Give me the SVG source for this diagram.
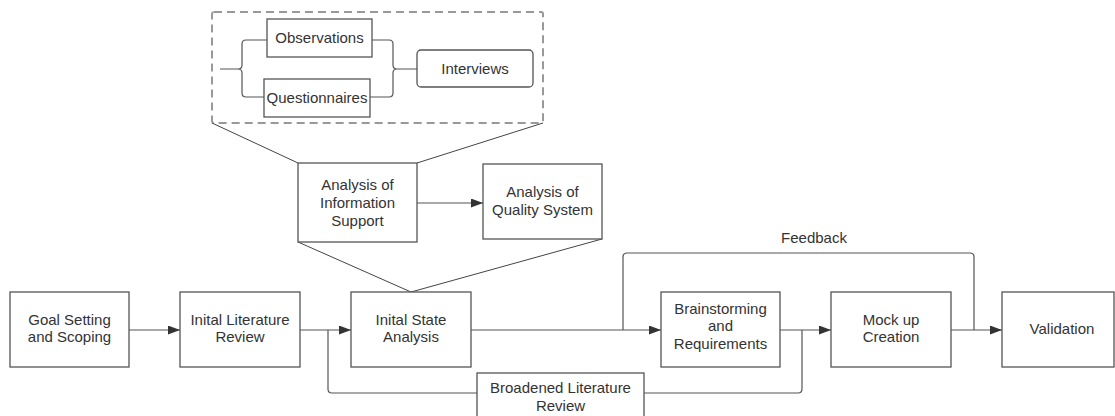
<svg xmlns="http://www.w3.org/2000/svg" width="1115" height="416" viewBox="0 0 1115 416">
  <defs>
    <marker id="arrow" markerUnits="userSpaceOnUse" markerWidth="13" markerHeight="9" refX="12" refY="4.5" orient="auto">
      <path d="M0,0 L12,4.5 L0,9 Z" fill="#333333"/>
    </marker>
    <style>
      .box { fill: #ffffff; stroke: #555555; stroke-width: 1.3; }
      .wire { fill: none; stroke: #555555; stroke-width: 1.2; }
      .zoomline { fill: none; stroke: #444444; stroke-width: 1; }
      .group { fill: none; stroke: #999999; stroke-width: 2; stroke-dasharray: 8 5; }
      text { font-family: "Liberation Sans", Arial, sans-serif; font-size: 15px; fill: #333333; text-anchor: middle; }
    </style>
  </defs>
  <rect width="1115" height="416" fill="#ffffff"/>

  <!-- data collection detail -->
  <g id="data-collection">
    <rect class="group" x="212" y="12" width="331" height="111" rx="2"/>
  </g>

  <g id="connectors">
    <!-- detail callout lines -->
    <path class="zoomline" d="M212,123 L298,163 M543,123 L417,163"/>
    <path class="zoomline" d="M298,242 L411,292 M602,239 L411,292"/>

    <!-- braces inside the data collection group -->
    <path class="wire" d="M220,69 H238 M267,40 H246 Q242,40 242,44 V65 Q242,69 238,69 Q242,69 242,73 V93 Q242,97 246,97 H264"/>
    <path class="wire" d="M372,40 H389 Q393,40 393,44 V65 Q393,69 397,69 Q393,69 393,73 V93 Q393,97 389,97 H370 M397,69 H417"/>

    <!-- analysis sub-flow -->
    <path class="wire" d="M417,203 H483" marker-end="url(#arrow)"/>

    <!-- main flow -->
    <path class="wire" d="M129,330 H180" marker-end="url(#arrow)"/>
    <path class="wire" d="M300,330 H351" marker-end="url(#arrow)"/>
    <path class="wire" d="M471,330 H661" marker-end="url(#arrow)"/>
    <path class="wire" d="M780,330 H831" marker-end="url(#arrow)"/>
    <path class="wire" d="M951,330 H1002" marker-end="url(#arrow)"/>

    <!-- broadened literature review loop -->
    <path class="wire" d="M328,330 V389 Q328,393 332,393 H477 M644,393 H798 Q802,393 802,389 V330"/>

    <!-- feedback loop -->
    <path class="wire" d="M623,330 V257 Q623,253 627,253 H970 Q974,253 974,257 V330"/>
    <text x="814" y="243">Feedback</text>
  </g>

  <g id="observations">
    <rect class="box" x="267" y="19" width="105" height="38"/>
    <text x="319.5" y="43">Observations</text>
  </g>
  <g id="questionnaires">
    <rect class="box" x="264" y="79" width="106" height="38"/>
    <text x="317" y="103">Questionnaires</text>
  </g>
  <g id="interviews">
    <rect class="box" x="417" y="50" width="116" height="37" rx="4"/>
    <text x="475" y="74">Interviews</text>
  </g>

  <g id="analysis-information-support">
    <rect class="box" x="298" y="163" width="119" height="79"/>
    <text x="357.5" y="190">Analysis of</text>
    <text x="357.5" y="208">Information</text>
    <text x="357.5" y="226">Support</text>
  </g>
  <g id="analysis-quality-system">
    <rect class="box" x="483" y="164" width="119" height="75"/>
    <text x="542.5" y="197">Analysis of</text>
    <text x="542.5" y="214.5">Quality System</text>
  </g>

  <g id="goal-setting">
    <rect class="box" x="10" y="292" width="119" height="75"/>
    <text x="69.5" y="324.5">Goal Setting</text>
    <text x="69.5" y="342">and Scoping</text>
  </g>
  <g id="initial-literature-review">
    <rect class="box" x="180" y="292" width="120" height="75"/>
    <text x="240" y="324.5">Inital Literature</text>
    <text x="240" y="342">Review</text>
  </g>
  <g id="initial-state-analysis">
    <rect class="box" x="351" y="292" width="120" height="75"/>
    <text x="411" y="324.5">Inital State</text>
    <text x="411" y="342">Analysis</text>
  </g>
  <g id="brainstorming">
    <rect class="box" x="661" y="292" width="119" height="75"/>
    <text x="720.5" y="313.5">Brainstorming</text>
    <text x="720.5" y="331">and</text>
    <text x="720.5" y="349">Requirements</text>
  </g>
  <g id="mock-up">
    <rect class="box" x="831" y="292" width="120" height="75"/>
    <text x="891" y="324.5">Mock up</text>
    <text x="891" y="342">Creation</text>
  </g>
  <g id="validation">
    <rect class="box" x="1002" y="292" width="112" height="75"/>
    <text x="1062" y="333.5">Validation</text>
  </g>
  <g id="broadened-literature-review">
    <rect class="box" x="477" y="373" width="167" height="50"/>
    <text x="560.5" y="393">Broadened Literature</text>
    <text x="560.5" y="410.5">Review</text>
  </g>
</svg>
